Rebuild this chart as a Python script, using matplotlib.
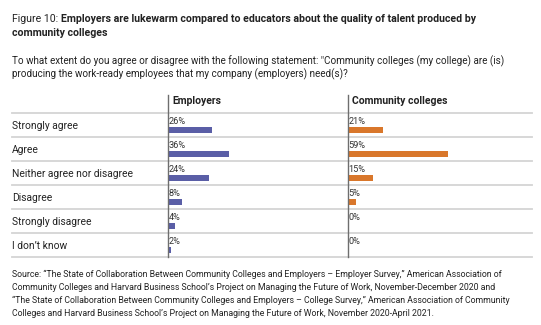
import matplotlib
matplotlib.use("Agg")
import matplotlib.pyplot as plt
from matplotlib.lines import Line2D

categories = ["Strongly agree", "Agree", "Neither agree nor disagree",
              "Disagree", "Strongly disagree", "I don\u2019t know"]
employers = [26, 36, 24, 8, 4, 2]
colleges = [21, 59, 15, 5, 0, 0]
series_names = ["Employers", "Community colleges"]

title_light = "Figure 10: "
title_bold_1 = "Employers are lukewarm compared to educators about the quality of talent produced by"
title_bold_2 = "community colleges"
question = ("To what extent do you agree or disagree with the following statement: \"Community colleges (my college) are (is)\n"
            "producing the work-ready employees that my company (employers) need(s)?")
source = ("Source: \u201cThe State of Collaboration Between Community Colleges and Employers \u2013 Employer Survey,\u201d American Association of\n"
          "Community Colleges and Harvard Business School\u2019s Project on Managing the Future of Work, November-December 2020 and\n"
          "\u201cThe State of Collaboration Between Community Colleges and Employers \u2013 College Survey,\u201d American Association of Community\n"
          "Colleges and Harvard Business School\u2019s Project on Managing the Future of Work, November 2020-April 2021.")

W, H = 541, 325
fig = plt.figure(figsize=(W / 100, H / 100), dpi=100)
fig.patch.set_facecolor("white")

BODY = "Roboto"
TXT = "#222222"


def fx(x):
    return x / W


def fy(y):
    return 1 - y / H


# Title: plain lead-in followed by bold headline, sized to span the text block
t_size = 8.3
t1 = fig.text(fx(12), fy(19.5), title_light, fontsize=t_size, family=BODY,
              color=TXT, va="center")
fig.canvas.draw()
bb = t1.get_window_extent()
t2 = fig.text(bb.x1 / W, fy(19.5), title_bold_1, fontsize=t_size, family=BODY, weight="bold",
              color=TXT, va="center")
fig.canvas.draw()
span = t2.get_window_extent().x1 - 12
t_size *= 461 / span
t1.set_fontsize(t_size)
fig.canvas.draw()
t2.set_x(t1.get_window_extent().x1 / W)
t2.set_fontsize(t_size)
fig.text(fx(12), fy(32.5), title_bold_2, fontsize=t_size, family=BODY, weight="bold",
         color=TXT, va="center")

# Question
fig.text(fx(12), fy(55.5), question, fontsize=7.1, family=BODY, color=TXT, va="top", linespacing=1.2)

# Table geometry
top_line, row_h, n = 113, 24, len(categories)
bottom = top_line + row_h * n
left, right = 12, 532
split1, split2 = 167.5, 347.5
scale = 1.69  # pixels per percentage point

for i in range(n + 1):
    y = fy(top_line + i * row_h)
    fig.add_artist(Line2D([fx(left), fx(right)], [y, y], color="#d4d4d4", lw=1.3))
for xs in (split1, split2):
    fig.add_artist(Line2D([fx(xs), fx(xs)], [fy(95), fy(bottom)], color="#6e6e6e", lw=1.0))

for i, cat in enumerate(categories):
    fig.text(fx(12), fy(top_line + (i + 0.5) * row_h + 1), cat, fontsize=7.35, family=BODY,
             color=TXT, va="center")

panels = [(split1 + 0.5, 300, employers, "#5a5ea6", series_names[0]),
          (split2 + 0.5, right, colleges, "#d9772b", series_names[1])]
for x0, x1, vals, col, name in panels:
    ax = fig.add_axes([fx(x0), fy(bottom), fx(x1) - fx(x0), (bottom - top_line) / H])
    ax.set_xlim(0, (x1 - x0) / scale)
    ax.set_ylim(n, 0)
    ax.axis("off")
    pos = [i + 0.72 for i in range(n)]
    ax.barh(pos, vals, height=0.24, color=col, left=0)
    for p, v in zip(pos, vals):
        ax.text(0.3, p - 0.37, f"{v}%", fontsize=6.6, family=BODY, color="#333333", va="center")
    fig.text(fx(x0 + 4), fy(101.5), name, fontsize=7.5, family=BODY, weight="bold",
             color=TXT, va="center")

# Source
fig.text(fx(12), fy(270), source, fontsize=6.3, family=BODY, color=TXT, va="top", linespacing=1.55)

fig.savefig("out.png", dpi=100, facecolor="white")
